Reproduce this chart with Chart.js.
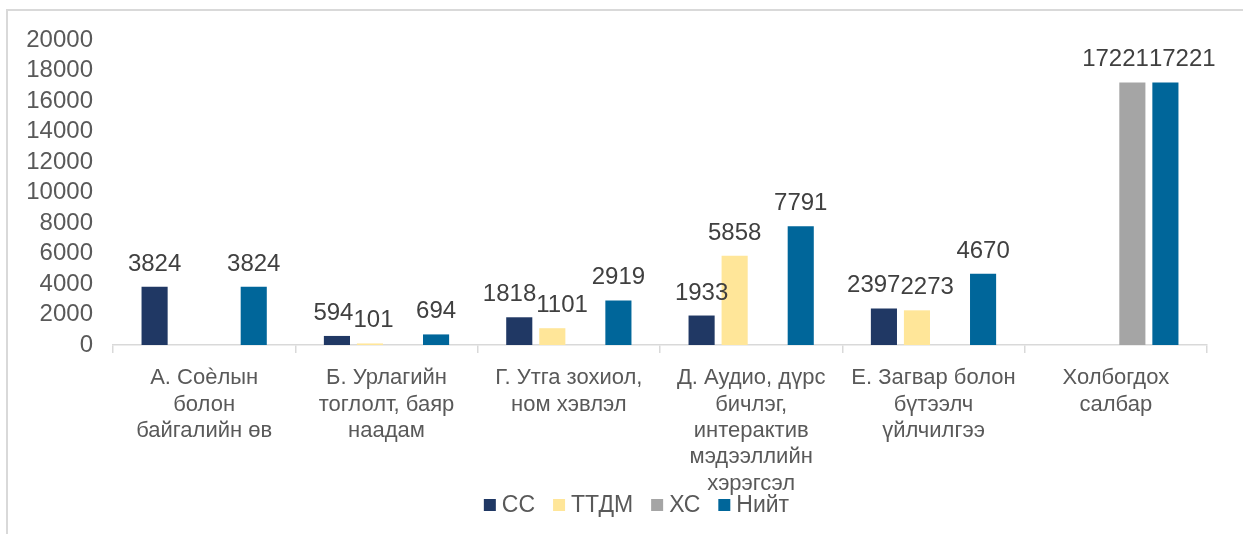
<!DOCTYPE html>
<html>
<head>
<meta charset="utf-8">
<script src="https://cdn.jsdelivr.net/npm/chart.js@4.4.0/dist/chart.umd.min.js"></script>
<style>
    html, body { margin: 0; padding: 0; background: #ffffff; overflow: hidden; }
    #frame {
        position: absolute; left: 6px; top: 9px; width: 1260px; height: 560px;
        border: 2px solid #d9d9d9; box-sizing: border-box;
    }
    #wrap { position: absolute; left: 0; top: 0; width: 1243px; height: 534px; }
</style>
</head>
<body>
<div id="frame"></div>
<div id="wrap"><canvas id="myChart" width="1243" height="534"></canvas></div>
<script>
var categories = [
    ['А. Соѐлын', 'болон', 'байгалийн өв'],
    ['Б. Урлагийн', 'тоглолт, баяр', 'наадам'],
    ['Г. Утга зохиол,', 'ном хэвлэл'],
    ['Д. Аудио, дүрс', 'бичлэг,', 'интерактив', 'мэдээллийн', 'хэрэгсэл'],
    ['Е. Загвар болон', 'бүтээлч', 'үйлчилгээ'],
    ['Холбогдох', 'салбар']
];
var seriesNames = ['СС', 'ТТДМ', 'ХС', 'Нийт'];
var ccValues = [3824, 594, 1818, 1933, 2397, null];
var ttdmValues = [null, 101, 1101, 5858, 2273, null];
var xcValues = [null, null, null, null, null, 17221];
var totalValues = [3824, 694, 2919, 7791, 4670, 17221];
var seriesColors = ['#203864', '#ffe699', '#a5a5a5', '#00669a'];
var yMax = 20000;
var yStep = 2000;

var fontFamily = '"Liberation Sans", Arial, sans-serif';

// value labels above bars, nudged apart when they collide
var valueLabels = {
    id: 'valueLabels',
    afterDatasetsDraw: function (chart) {
        var ctx = chart.ctx;
        var fontSize = 24;
        ctx.save();
        ctx.font = fontSize + 'px ' + fontFamily;
        ctx.fillStyle = '#404040';
        ctx.textAlign = 'center';
        ctx.textBaseline = 'alphabetic';
        for (var i = 0; i < chart.data.labels.length; i++) {
            var items = [];
            chart.data.datasets.forEach(function (ds, d) {
                var v = ds.data[i];
                if (v === null || v === undefined) return;
                var bar = chart.getDatasetMeta(d).data[i];
                var text = String(v);
                items.push({ x: bar.x, y: bar.y - 16, w: ctx.measureText(text).width, text: text });
            });
            for (var k = 1; k < items.length; k++) {
                var a = items[k - 1], b = items[k];
                if (Math.abs(a.y - b.y) > fontSize * 0.8) continue;
                var overlap = (a.w + b.w) / 2 - (b.x - a.x);
                if (overlap > 0) {
                    a.x -= overlap / 2;
                    b.x += overlap / 2;
                }
            }
            items.forEach(function (it) {
                ctx.fillText(it.text, it.x, it.y);
            });
        }
        ctx.restore();
    }
};

// legend drawn by hand so it can sit close under the long category label
var bottomLegend = {
    id: 'bottomLegend',
    afterDraw: function (chart) {
        var ctx = chart.ctx;
        var box = 12, gap = 6, space = 18;
        ctx.save();
        ctx.font = '23px ' + fontFamily;
        ctx.textBaseline = 'middle';
        ctx.textAlign = 'left';
        var total = 0;
        chart.data.datasets.forEach(function (ds, i) {
            total += box + gap + ctx.measureText(ds.label).width;
            if (i > 0) total += space;
        });
        var x = chart.width / 2 + 15 - total / 2;
        var y = 505;
        chart.data.datasets.forEach(function (ds) {
            ctx.fillStyle = ds.backgroundColor;
            ctx.fillRect(x, y - box / 2, box, box);
            x += box + gap;
            ctx.fillStyle = '#595959';
            ctx.fillText(ds.label, x, y + 1);
            x += ctx.measureText(ds.label).width + space;
        });
        ctx.restore();
    }
};

var ctx = document.getElementById('myChart').getContext('2d');
var allSeries = [ccValues, ttdmValues, xcValues, totalValues];

var chart = new Chart(ctx, {
    type: 'bar',
    data: {
        labels: categories,
        datasets: allSeries.map(function (vals, i) {
            return {
                label: seriesNames[i],
                data: vals,
                backgroundColor: seriesColors[i],
                borderWidth: 0,
                categoryPercentage: 0.725,
                barPercentage: 0.79
            };
        })
    },
    options: {
        responsive: false,
        animation: false,
        layout: { padding: { top: 40, right: 36, bottom: 39, left: 0 } },
        plugins: {
            tooltip: { enabled: false },
            legend: { display: false }
        },
        scales: {
            x: {
                grid: {
                    display: true,
                    offset: true,
                    drawOnChartArea: false,
                    drawTicks: true,
                    tickLength: 8,
                    color: '#d9d9d9',
                    lineWidth: 1.5
                },
                border: { display: true, color: '#d9d9d9', width: 1.5 },
                ticks: {
                    color: '#595959',
                    padding: 12,
                    maxRotation: 0,
                    autoSkip: false,
                    font: { size: 22, lineHeight: 1.2, family: fontFamily }
                },
                afterFit: function (scale) { scale.height = 150; }
            },
            y: {
                min: 0,
                max: yMax,
                grid: { display: false, drawTicks: false },
                border: { display: false },
                ticks: {
                    stepSize: yStep,
                    autoSkip: false,
                    color: '#595959',
                    padding: 20,
                    font: { size: 24, family: fontFamily },
                    callback: function (value) { return String(value); }
                },
                afterFit: function (scale) { scale.width = 113; }
            }
        }
    },
    plugins: [valueLabels, bottomLegend]
});
</script>
</body>
</html>
